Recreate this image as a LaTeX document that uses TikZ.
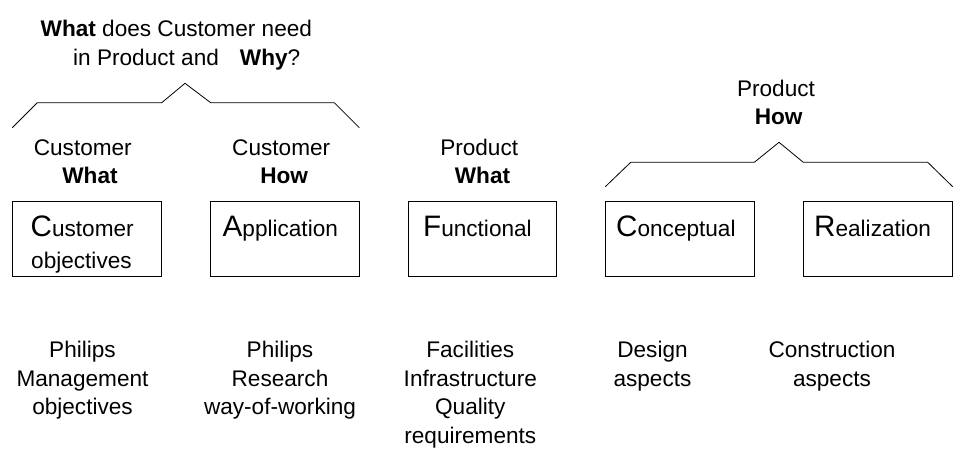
\documentclass[tikz,border=0pt]{standalone}
\usepackage{fontspec}
\setmainfont{Liberation Sans}
\newcommand{\biglet}[1]{{\fontsize{29.6}{30}\selectfont #1}}
\begin{document}
\begin{tikzpicture}[x=1pt,y=-1pt,
  txt/.style={inner sep=0pt,font=\fontsize{22.6}{26}\selectfont},
  bl/.style={txt,anchor=base},
  bw/.style={txt,anchor=base west},
  box/.style={draw,line width=0.8pt,minimum width=148.6pt,minimum height=74.3pt,inner sep=0pt},
  brace/.style={line width=0.8pt,line join=miter}]
\useasboundingbox (0,0) rectangle (961,461);
% title
\node[bw] (t1) at (40.5,36.7) {\textbf{What} does Customer need};
\node[bw] (t2) at (73,65) {in Product and\hspace{21pt}\textbf{Why}?};
% braces
\draw[brace] (12.3,127.7) -- (37.3,102.7) -- (161.7,102.7) -- (185,83.3) -- (210.7,102.7) -- (334.3,102.7) -- (359.3,127.7);
\draw[brace] (605.3,186.7) -- (630.7,162.3) -- (754.3,162.3) -- (779,142.3) -- (803.3,162.3) -- (927.7,162.3) -- (952.7,186.7);
% column labels
\node[bl] (l1a) at (82.8,155.7) {Customer};
\node[bl] (l1b) at (90,183.3) {\textbf{What}};
\node[bl] (l2a) at (281.2,155.7) {Customer};
\node[bl] (l2b) at (284.2,183.3) {\textbf{How}};
\node[bl] (l3a) at (479.2,155.7) {Product};
\node[bl] (l3b) at (482.5,183.3) {\textbf{What}};
\node[bl] (l4a) at (776,96) {Product};
\node[bl] (l4b) at (778.7,124.3) {\textbf{How}};
% boxes
\node[box] (bx1) at (87,238.85) {};
\node[box] (bx2) at (284.65,238.85) {};
\node[box] (bx3) at (482.2,238.85) {};
\node[box] (bx4) at (679.85,238.85) {};
\node[box] (bx5) at (877.8,238.85) {};
\node[bw] (c1a) at (30.5,236.7) {\biglet{C}ustomer};
\node[bw] (c1b) at (31,268.3) {objectives};
\node[bw] (c2) at (222.5,236.7) {\biglet{A}pplication};
\node[bw] (c3) at (423,236.7) {\biglet{F}unctional};
\node[bw] (c4) at (616,236.7) {\biglet{C}onceptual};
\node[bw] (c5) at (814,236.7) {\biglet{R}ealization};
% bottom texts
\foreach \t [count=\i] in {Philips,Management,objectives}
  \node[bl] (d1-\i) at (82.5,357.5+28.5*\i-28.5) {\t};
\foreach \t [count=\i] in {Philips,Research,way-of-working}
  \node[bl] (d2-\i) at (280,357.5+28.5*\i-28.5) {\t};
\foreach \t [count=\i] in {Facilities,Infrastructure,Quality,requirements}
  \node[bl] (d3-\i) at (470.3,357.5+28.5*\i-28.5) {\t};
\foreach \t [count=\i] in {Design,aspects}
  \node[bl] (d4-\i) at (652.5,357.5+28.5*\i-28.5) {\t};
\foreach \t [count=\i] in {Construction,aspects}
  \node[bl] (d5-\i) at (832,357.5+28.5*\i-28.5) {\t};
\end{tikzpicture}
\end{document}
